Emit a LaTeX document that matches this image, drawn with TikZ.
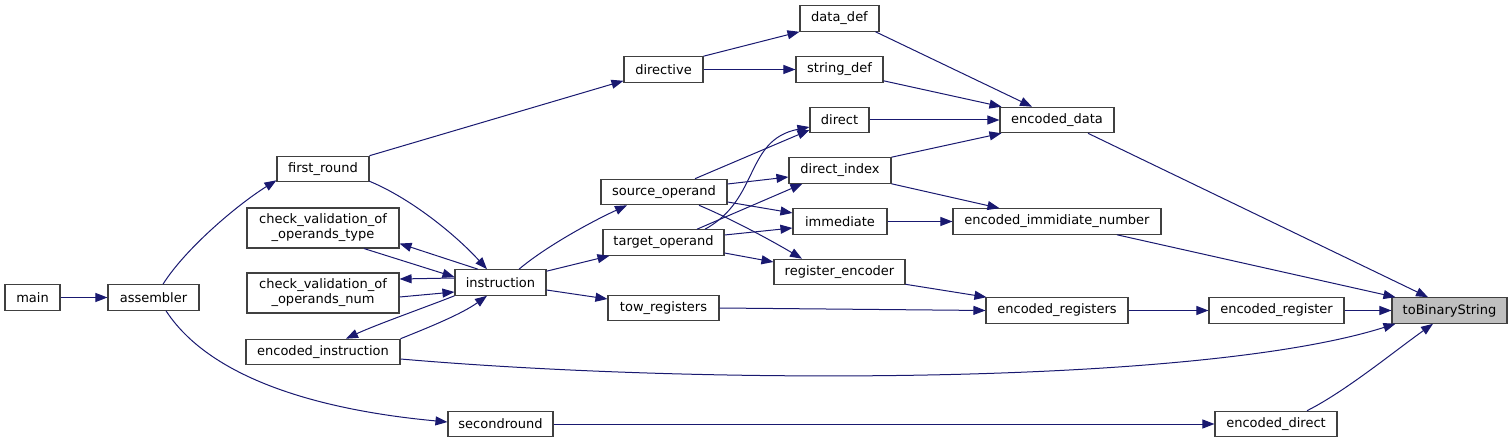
\documentclass[tikz,border=0pt]{standalone}
\usepackage{fontspec}
\setmainfont{DejaVu Sans}
\usepackage{tikz}
\usepackage{xcolor}
\usetikzlibrary{arrows.meta}
\definecolor{edgeblue}{RGB}{25,25,112}
\definecolor{boxgray}{RGB}{64,64,64}
\definecolor{rootgray}{RGB}{191,191,191}

\begin{document}
\begin{tikzpicture}[x=1pt, y=-1pt, >={Triangle[length=12pt,width=9pt]},
    fn/.style={draw=boxgray, fill=white, line width=1.1pt, inner sep=0pt,
        minimum height=25.5pt, align=center, font=\fontsize{13pt}{15pt}\selectfont},
    call/.style={->, edgeblue, line width=1pt}]
    \useasboundingbox (0,0) rectangle (1512,443);
    % Function boxes
    \node[fn, minimum width=55pt] (main) at (32.5,297.5) {main};
    \node[fn, minimum width=91pt] (assembler) at (153.5,297.5) {assembler};
    \node[fn, minimum width=92pt] (firstround) at (323,169) {first\_round};
    \node[fn, minimum width=152pt, minimum height=40pt] (checktype) at (323,228) {check\_validation\_of\\\_operands\_type};
    \node[fn, minimum width=152pt, minimum height=40pt] (checknum) at (323,293) {check\_validation\_of\\\_operands\_num};
    \node[fn, minimum width=154pt] (encinstr) at (323,352) {encoded\_instruction};
    \node[fn, minimum width=91pt] (instr) at (500.5,282.5) {instruction};
    \node[fn, minimum width=105pt] (secround) at (500.5,424) {secondround};
    \node[fn, minimum width=79pt] (directive) at (663.5,69.5) {directive};
    \node[fn, minimum width=126pt] (srcop) at (664,192) {source\_operand};
    \node[fn, minimum width=121pt] (tgtop) at (663.5,242.5) {target\_operand};
    \node[fn, minimum width=111pt] (towreg) at (663.5,308) {tow\_registers};
    \node[fn, minimum width=79pt] (datadef) at (839.5,18.5) {data\_def};
    \node[fn, minimum width=87pt] (stringdef) at (839.5,69.5) {string\_def};
    \node[fn, minimum width=59pt] (direct) at (839.5,120) {direct};
    \node[fn, minimum width=102pt] (dirindex) at (840,170.5) {direct\_index};
    \node[fn, minimum width=94pt] (immediate) at (840,221.5) {immediate};
    \node[fn, minimum width=131pt] (regenc) at (839.5,272) {register\_encoder};
    \node[fn, minimum width=114pt] (encdata) at (1057,120) {encoded\_data};
    \node[fn, minimum width=208pt] (encimm) at (1057,221.5) {encoded\_immidiate\_number};
    \node[fn, minimum width=142pt] (encregs) at (1057,310.5) {encoded\_registers};
    \node[fn, minimum width=135pt] (encreg) at (1276.5,310.5) {encoded\_register};
    \node[fn, minimum width=122pt] (encdirect) at (1276,424) {encoded\_direct};
    \node[fn, minimum width=115pt, fill=rootgray] (tobin) at (1449.5,310.5) {toBinaryString};

    % Calls from the left part
    \draw[call] (main) -- (assembler);
    \draw[call] ([xshift=9.5pt]assembler.north) .. controls +(22,-35) and +(-40,25) .. ([yshift=2pt]firstround.south west);
    \draw[call] ([xshift=12.5pt]assembler.south) .. controls +(49,75) and +(-108,-10) .. ([yshift=2pt]secround.west);
    \draw[call] (firstround.north east) -- ([yshift=2pt]directive.south west);
    \draw[call] ([yshift=1pt]firstround.south east) .. controls +(41,17) and +(-32,-35) .. ([xshift=-13.5pt]instr.north);
    \draw[call] ([xshift=-22.5pt]instr.north) -- ([yshift=5pt]checktype.south east);
    \draw[call] ([xshift=41pt]checktype.south) -- ([yshift=5.5pt]instr.west);
    \draw[call] ([yshift=4.5pt]instr.west) -- ([yshift=14pt]checknum.east);
    \draw[call] ([yshift=-4pt]checknum.east) -- ([yshift=-9.5pt]instr.west);
    \draw[call] (instr.south west) .. controls +(-25,10) and +(30,-14) .. ([xshift=23pt]encinstr.north);
    \draw[call] (encinstr.north east) .. controls +(30,-12) and +(-25,18) .. ([xshift=-13.5pt]instr.south);
    \draw[call] ([yshift=-7pt]encinstr.east) .. controls +(300,26) and +(-196,62) .. ([xshift=4pt]tobin.south west);

    % Calls from instruction and its operands
    \draw[call] ([xshift=18.5pt]instr.north) .. controls +(26,-22) and +(-37,17) .. ([xshift=-37pt]srcop.south);
    \draw[call] ([yshift=-2pt]instr.north east) -- ([xshift=7pt]tgtop.south west);
    \draw[call] ([yshift=-7.5pt]instr.east) -- ([yshift=9pt]towreg.west);
    \draw[call] ([xshift=31pt]srcop.north) -- ([yshift=-10pt]direct.west);
    \draw[call] ([yshift=8pt]srcop.east) -- ([yshift=-6.5pt]dirindex.west);
    \draw[call] ([yshift=-10pt]srcop.east) -- ([yshift=8.5pt]immediate.west);
    \draw[call] ([xshift=35pt]srcop.south) .. controls +(31,13) and +(-32,-19) .. ([xshift=-37.5pt]regenc.north);
    \draw[call] ([xshift=41.5pt]tgtop.north) .. controls +(55,-30) and +(-65,13) .. ([yshift=-7pt]direct.west);
    \draw[call] ([xshift=33.5pt]tgtop.north) -- ([xshift=14pt]dirindex.south west);
    \draw[call] ([yshift=7.5pt]tgtop.east) -- ([yshift=-6.5pt]immediate.west);
    \draw[call] ([yshift=-10.5pt]tgtop.east) -- ([yshift=10pt]regenc.west);

    % Calls toward the encoders
    \draw[call] (directive.north east) -- (datadef.south west);
    \draw[call] (directive) -- (stringdef);
    \draw[call] ([xshift=-4pt]datadef.south east) -- ([xshift=-25pt]encdata.north);
    \draw[call] ([yshift=2pt]stringdef.south east) -- ([xshift=2pt]encdata.north west);
    \draw[call] (direct) -- (encdata);
    \draw[call] (dirindex.north east) -- ([xshift=2pt]encdata.south west);
    \draw[call] (dirindex.south east) -- ([xshift=47pt]encimm.north west);
    \draw[call] (immediate) -- (encimm);
    \draw[call] ([yshift=1pt]regenc.south east) -- ([xshift=1pt]encregs.north west);
    \draw[call] (towreg.east) -- (encregs.west);
    \draw[call] (encregs) -- (encreg);
    \draw[call] (secround) -- (encdirect);

    % Calls into toBinaryString
    \draw[call] (encreg) -- (tobin);
    \draw[call] ([xshift=31pt]encdata.south) -- ([xshift=-21.5pt]tobin.north);
    \draw[call] ([xshift=60pt]encimm.south) -- ([xshift=4pt]tobin.north west);
    \draw[call] ([xshift=31pt]encdirect.north) .. controls +(38,-19) and +(-38,27) .. ([xshift=-16.5pt]tobin.south);
\end{tikzpicture}
\end{document}
